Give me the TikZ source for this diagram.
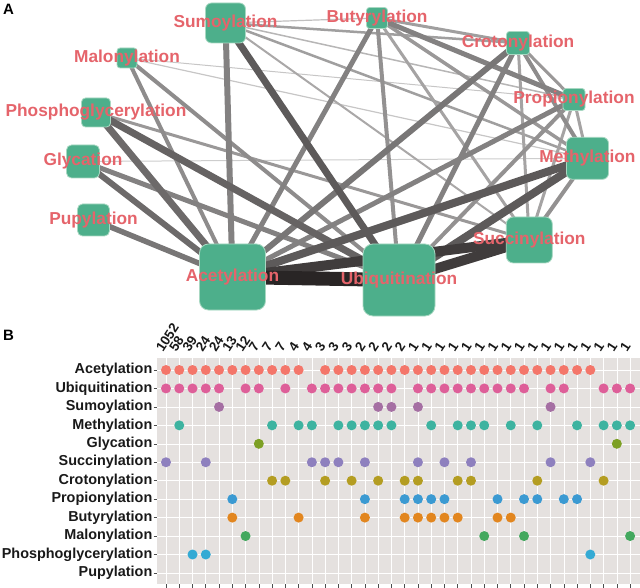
\documentclass[tikz,border=0pt]{standalone}
\usepackage{fontspec}
\setmainfont{Liberation Sans}
\pgfdeclarelayer{bg}
\pgfsetlayers{bg,main}
\definecolor{nodegreen}{HTML}{4DAF8B}
\definecolor{nodeborder}{HTML}{A8D8C2}
\definecolor{labred}{HTML}{E5646B}
\definecolor{panelgrey}{HTML}{E5E1DF}
\definecolor{edgebase}{HTML}{1E1A1A}
\definecolor{cacet}{HTML}{F4766A}
\definecolor{cubiq}{HTML}{DE5F99}
\definecolor{csumo}{HTML}{A56FA3}
\definecolor{cmeth}{HTML}{3DB3A0}
\definecolor{cglyc}{HTML}{7DA024}
\definecolor{csucc}{HTML}{8E80BE}
\definecolor{ccrot}{HTML}{B49D22}
\definecolor{cprop}{HTML}{3B9AD2}
\definecolor{cbuty}{HTML}{E2861F}
\definecolor{cmalo}{HTML}{43A85E}
\definecolor{cphos}{HTML}{34AAD4}
\begin{document}
\begin{tikzpicture}[x=1pt,y=-1pt,
  ptm/.style 2 args={rectangle, minimum size=#1, rounded corners=#2, fill=nodegreen, draw=nodeborder, line width=0.8pt, inner sep=0pt},
  lbl/.style={font=\bfseries\fontsize{17.3}{18}\selectfont, text=labred, inner sep=0pt},
  edg/.style 2 args={line width=#1, draw=edgebase!#2!white},
  rowlbl/.style={font=\bfseries\fontsize{14.4}{15}\selectfont, text=black!90, anchor=east, inner sep=0pt},
  collbl/.style={font=\bfseries\fontsize{13.5}{14}\selectfont, text=black!90, anchor=base west, rotate=57, inner sep=0pt},
  letter/.style={font=\bfseries\fontsize{15}{15}\selectfont, anchor=north west, inner sep=0pt},
  gridw/.style={draw=white, line width=0.6pt},
  tickc/.style={draw=black!70, line width=0.6pt}]
\useasboundingbox (0,0) rectangle (640,588);

% ---------------- Panel A ----------------
\node[letter] (pa) at (3,4) {A};
\node[ptm={40pt}{6pt}] (sumo) at (225.5,23) {};
\node[ptm={20pt}{3pt}] (malo) at (127,58) {};
\node[ptm={29pt}{4pt}] (phos) at (96,112.5) {};
\node[ptm={33pt}{5pt}] (glyc) at (83,161.5) {};
\node[ptm={32pt}{5pt}] (pupy) at (93.5,220) {};
\node[ptm={66pt}{9pt}] (acet) at (232.5,277) {};
\node[ptm={72pt}{10pt}] (ubiq) at (399,280) {};
\node[ptm={46pt}{7pt}] (succ) at (529.3,240) {};
\node[ptm={42pt}{6pt}] (meth) at (587.5,158.3) {};
\node[ptm={22pt}{3pt}] (prop) at (574,99.5) {};
\node[ptm={23pt}{3pt}] (crot) at (518,43) {};
\node[ptm={21pt}{3pt}] (buty) at (377,18) {};

\begin{pgfonlayer}{bg}
\draw[edg={1}{25}] (prop.center) -- (malo.center);
\draw[edg={1}{22}] (meth.center) -- (glyc.center);
\draw[edg={1.2}{25}] (meth.center) -- (malo.center);
\draw[edg={1.5}{32}] (sumo.center) -- (prop.center);
\draw[edg={1.2}{28}] (sumo.center) -- (buty.center);
\draw[edg={2}{38}] (sumo.center) -- (succ.center);
\draw[edg={2.5}{42}] (sumo.center) -- (meth.center);
\draw[edg={2.5}{42}] (sumo.center) -- (crot.center);
\draw[edg={3}{40}] (succ.center) -- (crot.center);
\draw[edg={3}{40}] (succ.center) -- (prop.center);
\draw[edg={3}{40}] (succ.center) -- (buty.center);
\draw[edg={3}{45}] (crot.center) -- (prop.center);
\draw[edg={3}{42}] (crot.center) -- (buty.center);
\draw[edg={3}{40}] (meth.center) -- (prop.center);
\draw[edg={3}{45}] (succ.center) -- (phos.center);
\draw[edg={3.5}{45}] (meth.center) -- (buty.center);
\draw[edg={4}{48}] (meth.center) -- (succ.center);
\draw[edg={4}{50}] (meth.center) -- (crot.center);
\draw[edg={4}{50}] (acet.center) -- (malo.center);
\draw[edg={4}{50}] (ubiq.center) -- (malo.center);
\draw[edg={4}{48}] (ubiq.center) -- (prop.center);
\draw[edg={4}{48}] (ubiq.center) -- (buty.center);
\draw[edg={5}{55}] (prop.center) -- (buty.center);
\draw[edg={5}{55}] (acet.center) -- (prop.center);
\draw[edg={5}{55}] (acet.center) -- (buty.center);
\draw[edg={5}{55}] (ubiq.center) -- (crot.center);
\draw[edg={5}{55}] (ubiq.center) -- (glyc.center);
\draw[edg={5.5}{60}] (acet.center) -- (pupy.center);
\draw[edg={6}{60}] (acet.center) -- (crot.center);
\draw[edg={6}{55}] (acet.center) -- (sumo.center);
\draw[edg={6}{65}] (acet.center) -- (glyc.center);
\draw[edg={7}{65}] (acet.center) -- (phos.center);
\draw[edg={7}{68}] (ubiq.center) -- (phos.center);
\draw[edg={7}{72}] (ubiq.center) -- (sumo.center);
\draw[edg={8}{72}] (acet.center) -- (meth.center);
\draw[edg={8}{72}] (ubiq.center) -- (meth.center);
\draw[edg={10}{85}] (acet.center) -- (succ.center);
\draw[edg={10}{85}] (ubiq.center) -- (succ.center);
\draw[edg={14}{95}] (acet.center) -- (ubiq.center);
\end{pgfonlayer}

\node[lbl] (lsumo) at (sumo) {Sumoylation};
\node[lbl] (lmalo) at (malo) {Malonylation};
\node[lbl] (lphos) at (phos) {Phosphoglycerylation};
\node[lbl] (lglyc) at (glyc) {Glycation};
\node[lbl] (lpupy) at (pupy) {Pupylation};
\node[lbl] (lacet) at (acet) {Acetylation};
\node[lbl] (lubiq) at (ubiq) {Ubiquitination};
\node[lbl] (lsucc) at (succ) {Succinylation};
\node[lbl] (lmeth) at (meth) {Methylation};
\node[lbl] (lprop) at (prop) {Propionylation};
\node[lbl] (lcrot) at (crot) {Crotonylation};
\node[lbl] (lbuty) at (buty) {Butyrylation};

% ---------------- Panel B ----------------
\node[letter] (pb) at (3,330) {B};
\fill[panelgrey] (157,358) rectangle (640,584);
\foreach \i in {0,...,35} {
  \draw[gridw] (166+13.26*\i,358) -- (166+13.26*\i,584);
  \draw[tickc] (166+13.26*\i,584) -- (166+13.26*\i,587.5);
}
\foreach \r in {0,...,11} {
  \draw[gridw] (157,370+18.45*\r) -- (640,370+18.45*\r);
  \draw[tickc] (153.5,370+18.45*\r) -- (157,370+18.45*\r);
}
\foreach \t [count=\r from 0] in {Acetylation,Ubiquitination,Sumoylation,Methylation,Glycation,Succinylation,Crotonylation,Propionylation,Butyrylation,Malonylation,Phosphoglycerylation,Pupylation}
  \node[rowlbl] (row\r) at (152.5,370+18.45*\r) {\t};
\foreach \n [count=\i from 0] in {1052,58,39,24,24,13,12,7,7,7,4,4,3,3,3,2,2,2,2,1,1,1,1,1,1,1,1,1,1,1,1,1,1,1,1,1}
  \node[collbl] (col\i) at (166+13.26*\i-3,353) {\n};

\newcommand\dotrow[3]{\foreach \c in {#3} \fill[#1] (166+13.26*\c,370+18.45*#2) circle[radius=5pt];}
\dotrow{cacet}{0}{0,1,2,3,4,5,6,7,8,9,10,12,13,14,15,16,17,18,19,20,21,22,23,24,25,26,27,28,29,30,31,32}
\dotrow{cubiq}{1}{0,1,2,3,4,6,7,9,11,12,13,14,15,16,17,19,20,21,22,23,24,25,26,27,29,30,33,34,35}
\dotrow{csumo}{2}{4,16,17,19,29}
\dotrow{cmeth}{3}{1,8,10,11,13,14,15,16,17,20,22,23,24,26,28,31,33,34,35}
\dotrow{cglyc}{4}{7,34}
\dotrow{csucc}{5}{0,3,11,12,13,15,19,21,23,29,32}
\dotrow{ccrot}{6}{8,9,12,14,16,18,19,22,23,28,33}
\dotrow{cprop}{7}{5,15,18,19,20,21,25,27,28,30,31}
\dotrow{cbuty}{8}{5,10,15,18,19,20,21,22,25,26}
\dotrow{cmalo}{9}{6,24,27,35}
\dotrow{cphos}{10}{2,3,32}
\end{tikzpicture}
\end{document}
